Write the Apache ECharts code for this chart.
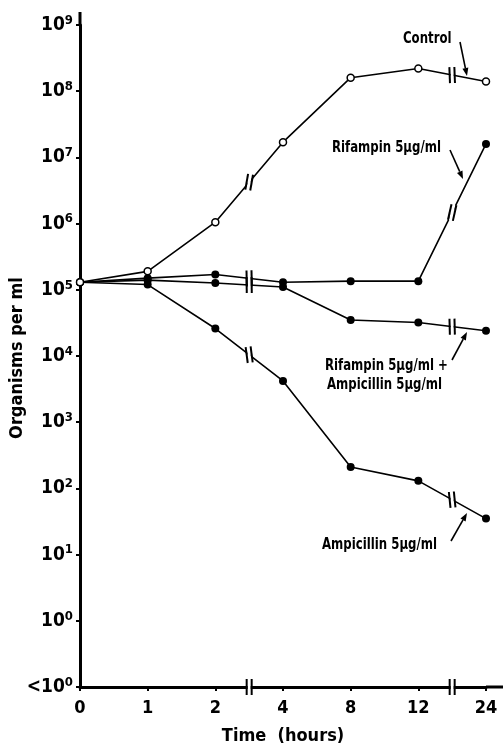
<!DOCTYPE html>
<html>
<head>
<meta charset="utf-8">
<script src="https://cdn.jsdelivr.net/npm/echarts@6/dist/echarts.min.js"></script>
<style>
  html, body { margin: 0; padding: 0; background: #fff; }
  #chart { width: 503px; height: 747px; }
</style>
</head>
<body>
<div id="chart"></div>
<script>
// time points (hours) – axis is broken between 2/4 and 12/24
const hours = ['0', '1', '2', '4', '8', '12', '24']
// organisms per ml
const control = [1.3e5, 1.9e5, 1.05e6, 1.7e7, 1.6e8, 2.2e8, 1.4e8]
const rifampin = [1.3e5, 1.5e5, 1.7e5, 1.3e5, 1.35e5, 1.35e5, 1.6e7]
const rifAmp = [1.3e5, 1.4e5, 1.27e5, 1.1e5, 3.5e4, 3.2e4, 2.4e4]
const ampicillin = [1.3e5, 1.2e5, 2.6e4, 4.2e3, 2.1e2, 1.3e2, 35]
// segments that carry the "||" break mark (index of the left point)
const breakAfter = [2, 5]

const FONT = '"Liberation Sans Narrow", "DejaVu Sans Condensed", "Liberation Sans", sans-serif'
const chart = echarts.init(document.getElementById('chart'))

function lineSeries(name, data, open) {
  return {
    name,
    type: 'line',
    data,
    symbol: 'circle',
    symbolSize: open ? 7 : 8,
    showAllSymbol: true,
    lineStyle: { color: '#000', width: 1.6 },
    itemStyle: open
      ? { color: '#fff', borderColor: '#000', borderWidth: 1.5 }
      : { color: '#000', borderColor: '#000', borderWidth: 0 },
    z: open ? 3 : 2
  }
}

chart.setOption({
  animation: false,
  backgroundColor: '#fff',
  grid: { left: 80, right: 17, top: 25, bottom: 60, outerBoundsMode: 'none', containLabel: false },
  xAxis: {
    type: 'category',
    data: hours,
    boundaryGap: false,
    name: 'Time  (hours)',
    nameLocation: 'middle',
    nameGap: 40,
    nameTextStyle: { fontFamily: FONT, fontWeight: 'bold', fontSize: 18, color: '#000' },
    axisLine: { lineStyle: { color: '#000', width: 3 } },
    axisTick: { alignWithLabel: true, length: 4, lineStyle: { color: '#000', width: 2 } },
    axisLabel: { fontFamily: FONT, fontWeight: 'bold', fontSize: 18, color: '#000', margin: 12 },
    splitLine: { show: false }
  },
  yAxis: {
    type: 'log',
    logBase: 10,
    min: 0.1,
    max: 1e9,
    splitNumber: 10,
    axisLine: { show: true, lineStyle: { color: '#000', width: 3 } },
    axisTick: { show: true, length: 4, lineStyle: { color: '#000', width: 2 } },
    axisLabel: {
      margin: 7,
      formatter: v => {
        const e = Math.round(Math.log10(v))
        return e < 0 ? '{n|<10}{s|0}' : '{n|10}{s|' + e + '}'
      },
      rich: {
        n: { fontFamily: FONT, fontWeight: 'bold', fontSize: 19, color: '#000' },
        s: { fontFamily: FONT, fontWeight: 'bold', fontSize: 13, color: '#000', padding: [0, 0, 9, 0] }
      }
    },
    splitLine: { show: false }
  },
  series: [
    lineSeries('Control', control, true),
    lineSeries('Rifampin 5µg/ml', rifampin, false),
    lineSeries('Rifampin 5µg/ml + Ampicillin 5µg/ml', rifAmp, false),
    lineSeries('Ampicillin 5µg/ml', ampicillin, false)
  ]
})

// "||" break symbol, optionally tilted a little with the line it cuts
function breakMark(x, y, h, rot) {
  return {
    type: 'group', x, y, rotation: rot || 0, z: 100,
    children: [
      { type: 'rect', shape: { x: -1.5, y: -h / 2, width: 3, height: h }, style: { fill: '#fff' }, z: 100 },
      { type: 'line', shape: { x1: -2.5, y1: -h / 2, x2: -2.5, y2: h / 2 }, style: { stroke: '#000', lineWidth: 2 }, z: 101 },
      { type: 'line', shape: { x1: 2.5, y1: -h / 2, x2: 2.5, y2: h / 2 }, style: { stroke: '#000', lineWidth: 2 }, z: 101 }
    ]
  }
}

function arrow(x1, y1, x2, y2) {
  const a = Math.atan2(y2 - y1, x2 - x1)
  const L = 8, W = 3
  const bx = x2 - L * Math.cos(a), by = y2 - L * Math.sin(a)
  return [
    { type: 'line', shape: { x1, y1, x2: bx, y2: by }, style: { stroke: '#000', lineWidth: 1.6 }, z: 110 },
    {
      type: 'polygon', z: 110,
      shape: { points: [[x2, y2], [bx + W * Math.sin(a), by - W * Math.cos(a)], [bx - W * Math.sin(a), by + W * Math.cos(a)]] },
      style: { fill: '#000' }
    }
  ]
}

function label(text, x, y) {
  return {
    type: 'text', x, y, z: 110, scaleX: 0.87,
    style: { text, fontFamily: FONT, fontWeight: 'bold', fontSize: 15, fill: '#000', textAlign: 'left', textVerticalAlign: 'middle' }
  }
}

const graphics = []
const allSeries = [control, rifampin, rifAmp, ampicillin]
allSeries.forEach((vals, si) => {
  breakAfter.forEach(k => {
    const p1 = chart.convertToPixel({ seriesIndex: si }, [k, vals[k]])
    const p2 = chart.convertToPixel({ seriesIndex: si }, [k + 1, vals[k + 1]])
    const up = Math.atan2(p1[1] - p2[1], p2[0] - p1[0])
    graphics.push(breakMark((p1[0] + p2[0]) / 2, (p1[1] + p2[1]) / 2, 16, -0.2 * up))
  })
})

// axis breaks and axis-line extensions
const originPx = chart.convertToPixel({ gridIndex: 0 }, [0, 0.1])
const topPx = chart.convertToPixel({ gridIndex: 0 }, [0, 1e9])
breakAfter.forEach(k => {
  const a = chart.convertToPixel({ xAxisIndex: 0 }, k)
  const b = chart.convertToPixel({ xAxisIndex: 0 }, k + 1)
  graphics.push(breakMark((a + b) / 2, originPx[1], 16, 0))
})
const lastPx = chart.convertToPixel({ xAxisIndex: 0 }, hours.length - 1)
graphics.push({ type: 'line', shape: { x1: lastPx, y1: originPx[1], x2: 503, y2: originPx[1] }, style: { stroke: '#000', lineWidth: 3 } })
graphics.push({ type: 'line', shape: { x1: originPx[0], y1: topPx[1], x2: originPx[0], y2: topPx[1] - 13 }, style: { stroke: '#000', lineWidth: 3 } })

// y axis title
graphics.push({
  type: 'text', x: 17, y: (originPx[1] + topPx[1]) / 2 + 2, rotation: Math.PI / 2, z: 110,
  style: { text: 'Organisms per ml', fontFamily: FONT, fontWeight: 'bold', fontSize: 18, fill: '#000', textAlign: 'center', textVerticalAlign: 'middle' }
})

// annotations
graphics.push(label('Control', 403, 39))
graphics.push(...arrow(460, 42, 467, 76))
graphics.push(label('Rifampin 5µg/ml', 332, 148))
graphics.push(...arrow(450, 150, 463, 179))
graphics.push(label('Rifampin 5µg/ml +', 325, 366))
graphics.push(label('Ampicillin 5µg/ml', 327, 385))
graphics.push(...arrow(452, 360, 467, 332))
graphics.push(label('Ampicillin 5µg/ml', 322, 545))
graphics.push(...arrow(451, 541, 467, 513))

chart.setOption({ graphic: graphics })
</script>
</body>
</html>
